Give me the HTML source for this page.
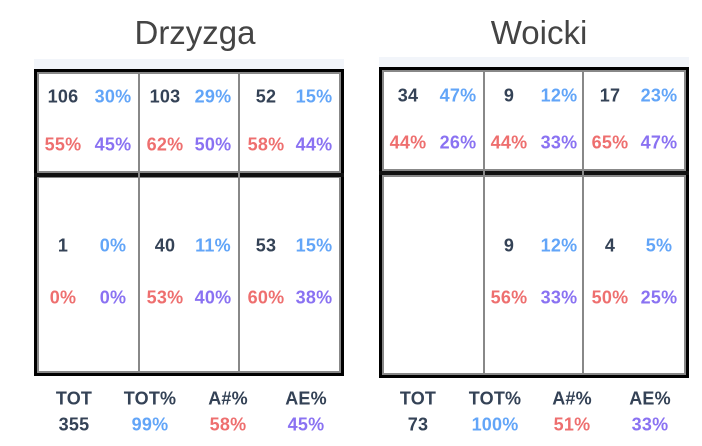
<!DOCTYPE html>
<html><head><meta charset="utf-8"><style>
body{margin:0;width:702px;height:446px;background:#fff;position:relative;overflow:hidden;font-family:"Liberation Sans",sans-serif}
.t{position:absolute;transform:translate(-50%,-50%);white-space:nowrap;font-size:18px;font-weight:bold;letter-spacing:0.2px}
.h{position:absolute;transform:translate(-50%,-50%);font-size:33px;color:#444}
.d{color:#344256}.b{color:#62a5f8}.r{color:#ee6f6f}.p{color:#8a72f2}
.box{position:absolute;border:3px solid #000;box-sizing:border-box}
.strip{position:absolute;background:#f2f5fa}
.v{position:absolute;width:2px;background:#888}
.hz{position:absolute;height:4px;background:#111}
.in{position:absolute;border:2px solid #888;box-sizing:border-box}
</style></head><body>
<div class="h" style="left:195px;top:33px">Drzyzga</div>
<div class="h" style="left:539px;top:33px">Woicki</div>
<div class="strip" style="left:34px;top:59px;width:310px;height:10px"></div>
<div class="strip" style="left:379px;top:57px;width:310px;height:10px"></div>
<div class="box" style="left:34px;top:69px;width:310px;height:307px"></div>
<div class="in" style="left:37px;top:72px;width:304px;height:101px"></div>
<div class="in" style="left:37px;top:176px;width:304px;height:197px"></div>
<div class="hz" style="left:34px;top:173px;width:310px"></div>
<div class="v" style="left:138px;top:72px;height:301px"></div>
<div class="v" style="left:238px;top:72px;height:301px"></div>
<div class="box" style="left:379px;top:67px;width:310px;height:311px"></div>
<div class="in" style="left:382px;top:70px;width:304px;height:101px"></div>
<div class="in" style="left:382px;top:175px;width:304px;height:200px"></div>
<div class="hz" style="left:379px;top:171px;width:310px"></div>
<div class="v" style="left:483px;top:70px;height:305px"></div>
<div class="v" style="left:582px;top:70px;height:305px"></div>

<span class="t d" style="left:63px;top:97px">106</span><span class="t b" style="left:113px;top:97px">30%</span>
<span class="t r" style="left:63px;top:145px">55%</span><span class="t p" style="left:113px;top:145px">45%</span>
<span class="t d" style="left:165px;top:97px">103</span><span class="t b" style="left:213px;top:97px">29%</span>
<span class="t r" style="left:165px;top:145px">62%</span><span class="t p" style="left:213px;top:145px">50%</span>
<span class="t d" style="left:266px;top:97px">52</span><span class="t b" style="left:314px;top:97px">15%</span>
<span class="t r" style="left:266px;top:145px">58%</span><span class="t p" style="left:314px;top:145px">44%</span>

<span class="t d" style="left:63px;top:246px">1</span><span class="t b" style="left:113px;top:246px">0%</span>
<span class="t r" style="left:63px;top:298px">0%</span><span class="t p" style="left:113px;top:298px">0%</span>
<span class="t d" style="left:165px;top:246px">40</span><span class="t b" style="left:213px;top:246px">11%</span>
<span class="t r" style="left:165px;top:298px">53%</span><span class="t p" style="left:213px;top:298px">40%</span>
<span class="t d" style="left:266px;top:246px">53</span><span class="t b" style="left:314px;top:246px">15%</span>
<span class="t r" style="left:266px;top:298px">60%</span><span class="t p" style="left:314px;top:298px">38%</span>

<span class="t d" style="left:408px;top:96px">34</span><span class="t b" style="left:458px;top:96px">47%</span>
<span class="t r" style="left:408px;top:143px">44%</span><span class="t p" style="left:458px;top:143px">26%</span>
<span class="t d" style="left:509px;top:96px">9</span><span class="t b" style="left:559px;top:96px">12%</span>
<span class="t r" style="left:509px;top:143px">44%</span><span class="t p" style="left:559px;top:143px">33%</span>
<span class="t d" style="left:610px;top:96px">17</span><span class="t b" style="left:659px;top:96px">23%</span>
<span class="t r" style="left:610px;top:143px">65%</span><span class="t p" style="left:659px;top:143px">47%</span>

<span class="t d" style="left:509px;top:246px">9</span><span class="t b" style="left:559px;top:246px">12%</span>
<span class="t r" style="left:509px;top:298px">56%</span><span class="t p" style="left:559px;top:298px">33%</span>
<span class="t d" style="left:610px;top:246px">4</span><span class="t b" style="left:659px;top:246px">5%</span>
<span class="t r" style="left:610px;top:298px">50%</span><span class="t p" style="left:659px;top:298px">25%</span>

<span class="t d" style="left:74px;top:399px">TOT</span><span class="t d" style="left:150px;top:399px">TOT%</span>
<span class="t d" style="left:228px;top:399px">A#%</span><span class="t d" style="left:306px;top:399px">AE%</span>
<span class="t d" style="left:74px;top:425px">355</span><span class="t b" style="left:150px;top:425px">99%</span>
<span class="t r" style="left:228px;top:425px">58%</span><span class="t p" style="left:306px;top:425px">45%</span>

<span class="t d" style="left:418px;top:399px">TOT</span><span class="t d" style="left:495px;top:399px">TOT%</span>
<span class="t d" style="left:572px;top:399px">A#%</span><span class="t d" style="left:650px;top:399px">AE%</span>
<span class="t d" style="left:418px;top:425px">73</span><span class="t b" style="left:495px;top:425px">100%</span>
<span class="t r" style="left:572px;top:425px">51%</span><span class="t p" style="left:650px;top:425px">33%</span>
</body></html>
